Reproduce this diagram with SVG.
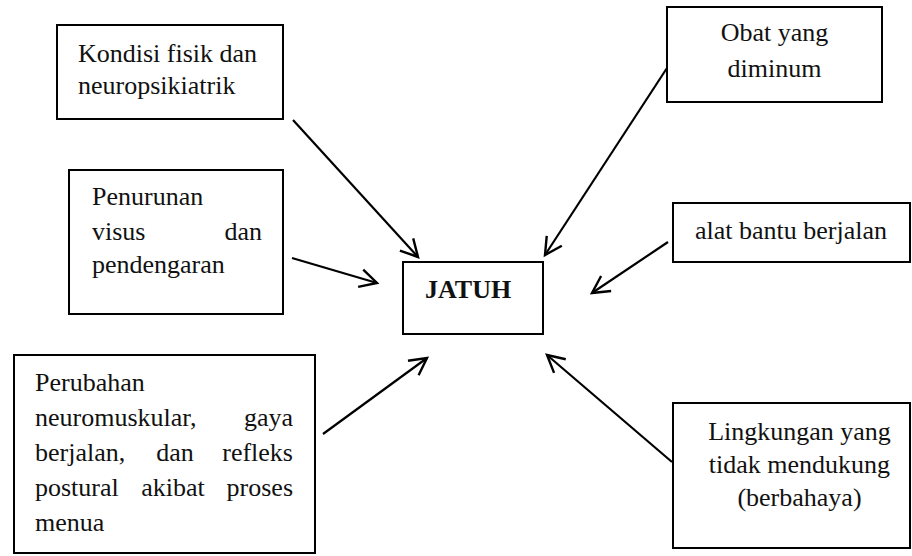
<svg xmlns="http://www.w3.org/2000/svg" width="912" height="556" viewBox="0 0 912 556">
<style>
.box{fill:#fff;stroke:#000;stroke-width:2}
.t{font-family:"Liberation Serif","Times New Roman",serif;font-size:26px;fill:#111}
.b{font-weight:bold}
.c{text-anchor:middle}
.e{text-anchor:end}
.ln{fill:none;stroke:#000;stroke-width:2.2;marker-end:url(#ah)}
</style>
<defs>
<marker id="ah" markerUnits="userSpaceOnUse" markerWidth="40" markerHeight="40" refX="0" refY="0" orient="auto" overflow="visible">
<path d="M-17,-9 L0,0 L-17,9" fill="none" stroke="#000" stroke-width="2.4"/>
</marker>
</defs>
<rect width="912" height="556" fill="#fff"/>
<g id="kondisi">
<rect class="box" x="57" y="25" width="226" height="94"/>
<text class="t" x="78" y="62">Kondisi fisik dan</text>
<text class="t" x="78" y="94">neuropsikiatrik</text>
</g>
<g id="penurunan">
<rect class="box" x="69" y="170" width="214" height="144"/>
<text class="t" x="92" y="205">Penurunan</text>
<text class="t" x="92" y="240">visus</text>
<text class="t e" x="262" y="240">dan</text>
<text class="t" x="92" y="273">pendengaran</text>
</g>
<g id="perubahan">
<rect class="box" x="14" y="355" width="301" height="198"/>
<text class="t" x="35" y="391">Perubahan</text>
<text class="t" x="35" y="426">neuromuskular,</text>
<text class="t e" x="293" y="426">gaya</text>
<text class="t" x="35" y="461">berjalan,</text>
<text class="t c" x="175" y="461">dan</text>
<text class="t e" x="293" y="461">refleks</text>
<text class="t" x="35" y="496">postural</text>
<text class="t c" x="173" y="496">akibat</text>
<text class="t e" x="293" y="496">proses</text>
<text class="t" x="35" y="531">menua</text>
</g>
<g id="jatuh">
<rect class="box" x="403" y="262" width="140" height="72"/>
<text class="t b" x="425" y="298">JATUH</text>
</g>
<g id="obat">
<rect class="box" x="667" y="7" width="215" height="95"/>
<text class="t c" x="774.5" y="41">Obat yang</text>
<text class="t c" x="774.5" y="77">diminum</text>
</g>
<g id="alat">
<rect class="box" x="673" y="203" width="237" height="59"/>
<text class="t" x="695" y="239">alat bantu berjalan</text>
</g>
<g id="lingkungan">
<rect class="box" x="673" y="403" width="237" height="145"/>
<text class="t c" x="799.5" y="440">Lingkungan yang</text>
<text class="t c" x="799.5" y="473">tidak mendukung</text>
<text class="t c" x="799.5" y="506">(berbahaya)</text>
</g>
<g id="connectors">
<line class="ln" x1="293" y1="120" x2="418" y2="257"/>
<line class="ln" x1="292" y1="258" x2="377" y2="283"/>
<line class="ln" x1="323" y1="434" x2="427" y2="358"/>
<line class="ln" x1="667" y1="68" x2="545" y2="255"/>
<line class="ln" x1="668" y1="242" x2="592" y2="293"/>
<line class="ln" x1="672" y1="462" x2="547" y2="355"/>
</g>
</svg>
